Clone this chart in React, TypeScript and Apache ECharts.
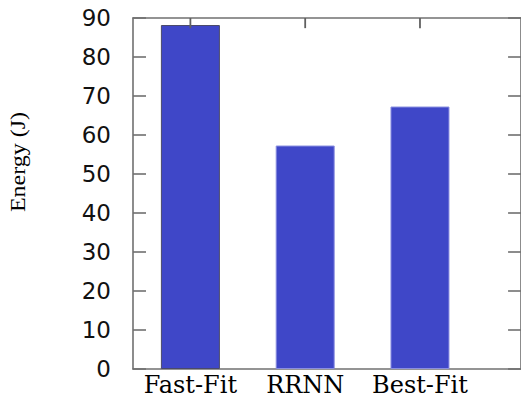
import React, { useEffect, useRef } from "react";
import * as echarts from "echarts";

const categories = ["Fast-Fit", "RRNN", "Best-Fit"];
const energyValues = [88.2, 57.3, 67.3];
const yTicks = [0, 10, 20, 30, 40, 50, 60, 70, 80, 90];
const axisTitle = "Energy (J)";

export default function App() {
  const ref = useRef<HTMLDivElement>(null);
  useEffect(() => {
    if (!ref.current) return;
    const chart = echarts.init(ref.current, undefined, { renderer: "svg" });
    const positions = categories.map((_, i) => i);
    const frame = { color: "#707070", width: 1.6 };
    const yMax = yTicks[yTicks.length - 1];
    const tickLen = 2.6;
    const tickSeries = positions.map((p) => ({
      type: "line",
      xAxisIndex: 0,
      yAxisIndex: 0,
      silent: true,
      showSymbol: false,
      symbol: "none",
      clip: false,
      z: 5,
      lineStyle: { color: "#606060", width: 1.8 },
      data: [
        [p, yMax],
        [p, yMax - tickLen],
      ],
    }));
    chart.setOption({
      animation: false,
      backgroundColor: "#ffffff",
      grid: { left: 133, top: 18, width: 397, height: 351, containLabel: false },
      xAxis: [
        {
          type: "value",
          position: "bottom",
          min: -0.5,
          max: 2.88,
          splitLine: { show: false },
          axisLine: { show: true, onZero: false, lineStyle: frame },
          axisTick: { show: false },
          axisLabel: {
            show: true,
            customValues: positions,
            formatter: (v: number) => categories[Math.round(v)] ?? "",
            color: "#000",
            fontFamily: "DejaVu Serif",
            fontSize: 24,
            margin: 4,
          },
        },
        {
          type: "value",
          position: "top",
          min: -0.5,
          max: 2.88,
          splitLine: { show: false },
          axisLine: { show: true, onZero: false, lineStyle: frame },
          axisTick: { show: false },
          axisLabel: { show: false },
        },
      ],
      yAxis: [
        {
          type: "value",
          position: "left",
          min: 0,
          max: yMax,
          interval: 10,
          splitLine: { show: false },
          axisLine: { show: true, onZero: false, lineStyle: frame },
          axisTick: { show: true, inside: true, length: 13, lineStyle: frame },
          axisLabel: {
            color: "#111",
            fontFamily: "DejaVu Sans",
            fontSize: 23,
            margin: 22,
            formatter: (v: number) => (yTicks.includes(v) ? String(v) : ""),
          },
        },
        {
          type: "value",
          position: "right",
          min: 0,
          max: yMax,
          interval: 10,
          splitLine: { show: false },
          axisLine: { show: true, onZero: false, lineStyle: frame },
          axisTick: { show: true, inside: true, length: 13, lineStyle: frame },
          axisLabel: { show: false },
        },
      ],
      series: [
        {
          type: "bar",
          xAxisIndex: 0,
          yAxisIndex: 0,
          barWidth: 59,
          z: 2,
          data: energyValues.map((v, i) => ({
            value: [i, v],
            itemStyle: {
              color: "#3f47c8",
              borderColor: i === 0 ? "#4a4a6a" : "#8a8fe0",
              borderWidth: 1,
            },
          })),
        },
        ...tickSeries,
      ],
      graphic: [
        {
          type: "text",
          x: 18,
          y: 162,
          rotation: Math.PI / 2,
          scaleX: 1.2,
          style: {
            text: axisTitle,
            fontFamily: "Liberation Serif",
            fontSize: 20,
            fill: "#000",
            align: "center",
            verticalAlign: "middle",
          },
        },
      ],
    });
    return () => chart.dispose();
  }, []);
  return (
    <div
      ref={ref}
      style={{ position: "fixed", left: 0, top: 0, width: 521, height: 398 }}
    />
  );
}
